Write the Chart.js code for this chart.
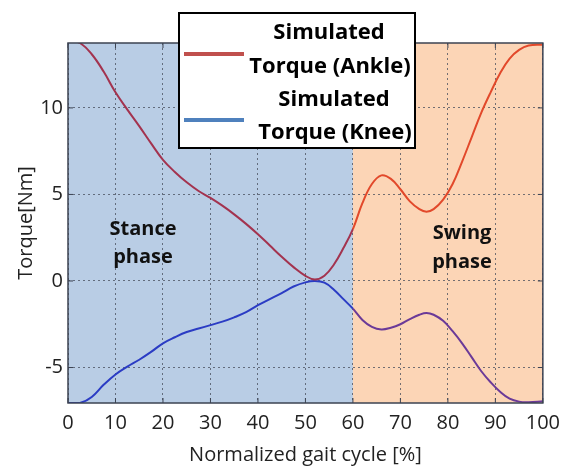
<!DOCTYPE html>
<html lang="en">
<head>
  <meta charset="UTF-8" />
  <script src="https://cdn.jsdelivr.net/npm/chart.js"></script>
  <title>Simulated Torque</title>
  <style>
    body { margin: 0; background: #fff; }
    #wrap { width: 568px; height: 469px; }
  </style>
</head>
<body>
  <div id="wrap"><canvas id="chart" width="568" height="469"></canvas></div>

  <script>
    // gait cycle [%]
    const gaitCycle = [0, 2.5, 5, 7.5, 10, 12.5, 15, 17.5, 20, 22.5, 25, 27.5, 30, 32.5, 35, 37.5, 40, 42.5, 45, 47.5,
      50, 52, 54, 56, 58, 60, 62, 64, 66, 68, 70, 72, 74, 75.5, 77, 79, 81, 83, 85, 87, 89, 91, 93, 95, 97, 100];
    const ankleTorque = [13.9, 13.75, 13.1, 12.1, 10.9, 9.9, 8.95, 7.95, 7.0, 6.3, 5.7, 5.2, 4.8, 4.35, 3.85, 3.3, 2.7, 2.05, 1.4, 0.8,
      0.3, 0.08, 0.3, 0.95, 1.9, 3.0, 4.5, 5.6, 6.1, 5.9, 5.3, 4.6, 4.15, 4.0, 4.15, 4.7, 5.6, 6.9, 8.3, 9.7, 10.9, 12.0, 12.85, 13.35, 13.6, 13.65];
    const kneeTorque = [-7.05, -7.05, -6.7, -6.0, -5.4, -4.95, -4.55, -4.1, -3.6, -3.25, -2.95, -2.75, -2.55, -2.35, -2.1, -1.8, -1.4, -1.05, -0.7, -0.32,
      -0.08, 0.0, -0.1, -0.5, -1.05, -1.6, -2.25, -2.65, -2.8, -2.7, -2.5, -2.2, -1.95, -1.85, -1.95, -2.3, -2.9, -3.6, -4.4, -5.2, -5.85, -6.4, -6.8, -6.97, -7.0, -6.95];
    const xTicks = [0, 10, 20, 30, 40, 50, 60, 70, 80, 90, 100];
    const yTicks = [-5, 0, 5, 10];
    const swingStart = 60;
    const legendLabels = [['Simulated', 'Torque (Ankle)'], ['Simulated', 'Torque (Knee)']];
    const phaseLabels = [['Stance', 'phase'], ['Swing', 'phase']];

    const toPoints = ys => gaitCycle.map((x, i) => ({ x: x, y: ys[i] }));
    const inSwing = ctx => ctx.p0.parsed.x >= swingStart;

    const phaseBackground = {
      id: 'phaseBackground',
      beforeDraw(chart) {
        const { ctx, chartArea: a, scales: { x } } = chart;
        const split = x.getPixelForValue(swingStart);
        ctx.save();
        ctx.fillStyle = '#b9cde5';
        ctx.fillRect(a.left, a.top, split - a.left, a.bottom - a.top);
        ctx.fillStyle = '#fcd5b6';
        ctx.fillRect(split, a.top, a.right - split, a.bottom - a.top);
        ctx.restore();
      }
    };

    const frameAndText = {
      id: 'frameAndText',
      afterDraw(chart) {
        const { ctx, chartArea: a, scales: { x, y } } = chart;
        ctx.save();
        // axes box with inner ticks
        ctx.strokeStyle = '#3c4352';
        ctx.lineWidth = 1.5;
        ctx.strokeRect(a.left, a.top, a.right - a.left, a.bottom - a.top);
        ctx.lineWidth = 1;
        ctx.beginPath();
        xTicks.forEach(v => {
          const px = x.getPixelForValue(v);
          ctx.moveTo(px, a.bottom); ctx.lineTo(px, a.bottom - 5);
          ctx.moveTo(px, a.top); ctx.lineTo(px, a.top + 5);
        });
        yTicks.forEach(v => {
          const py = y.getPixelForValue(v);
          ctx.moveTo(a.left, py); ctx.lineTo(a.left + 5, py);
          ctx.moveTo(a.right, py); ctx.lineTo(a.right - 5, py);
        });
        ctx.stroke();

        // phase labels
        ctx.fillStyle = '#111';
        ctx.font = 'bold 20px "Open Sans"';
        ctx.textAlign = 'center';
        ctx.textBaseline = 'middle';
        ctx.fillText(phaseLabels[0][0], 143, 229);
        ctx.fillText(phaseLabels[0][1], 143, 257);
        ctx.fillText(phaseLabels[1][0], 462, 233);
        ctx.fillText(phaseLabels[1][1], 462, 262);

        // legend box
        ctx.fillStyle = '#fff';
        ctx.fillRect(179, 13, 236, 135);
        ctx.strokeStyle = '#000';
        ctx.lineWidth = 2;
        ctx.strokeRect(179, 13, 236, 135);
        ctx.lineWidth = 4;
        ctx.strokeStyle = '#c0504d';
        ctx.beginPath(); ctx.moveTo(184, 54); ctx.lineTo(244, 54); ctx.stroke();
        ctx.strokeStyle = '#4f81bd';
        ctx.beginPath(); ctx.moveTo(184, 120); ctx.lineTo(244, 120); ctx.stroke();
        ctx.fillStyle = '#000';
        ctx.font = 'bold 22px "Open Sans"';
        ctx.fillText(legendLabels[0][0], 329, 33);
        ctx.fillText(legendLabels[0][1], 330, 67);
        ctx.fillText(legendLabels[1][0], 334, 100);
        ctx.fillText(legendLabels[1][1], 335, 133);
        ctx.restore();
      }
    };

    new Chart(document.getElementById('chart'), {
      type: 'line',
      data: {
        datasets: [
          {
            label: 'Simulated Torque (Ankle)',
            data: toPoints(ankleTorque),
            borderWidth: 2,
            borderColor: '#a3334f',
            segment: { borderColor: ctx => inSwing(ctx) ? '#e2492b' : '#a3334f' },
            pointRadius: 0,
            tension: 0.4
          },
          {
            label: 'Simulated Torque (Knee)',
            data: toPoints(kneeTorque),
            borderWidth: 2,
            borderColor: '#2b3cc4',
            segment: { borderColor: ctx => inSwing(ctx) ? '#6b3a98' : '#2b3cc4' },
            pointRadius: 0,
            tension: 0.4
          }
        ]
      },
      options: {
        responsive: false,
        animation: false,
        layout: { padding: { top: 43, right: 21, left: 0, bottom: 0 } },
        plugins: { legend: { display: false }, tooltip: { enabled: false } },
        scales: {
          x: {
            type: 'linear',
            min: 0,
            max: 100,
            afterFit: s => { s.height = 66; },
            afterBuildTicks: s => { s.ticks = xTicks.map(v => ({ value: v })); },
            grid: { color: 'rgba(70,75,90,0.75)', drawTicks: false },
            border: { display: false, dash: [2, 3] },
            ticks: { padding: 8, color: '#222', font: { family: 'Open Sans', size: 20 } },
            title: { display: true, text: 'Normalized gait cycle [%]', color: '#222', padding: { top: 0, bottom: 2 }, font: { family: 'Open Sans', size: 20 } }
          },
          y: {
            min: -7.05,
            max: 13.75,
            afterFit: s => { s.width = 68; },
            afterBuildTicks: s => { s.ticks = yTicks.map(v => ({ value: v })); },
            grid: { color: 'rgba(70,75,90,0.75)', drawTicks: false },
            border: { display: false, dash: [2, 3] },
            ticks: { padding: 5, color: '#222', font: { family: 'Open Sans', size: 20 } },
            title: { display: true, text: 'Torque[Nm]', color: '#222', padding: { top: 14, bottom: 0 }, font: { family: 'Open Sans', size: 20 } }
          }
        }
      },
      plugins: [phaseBackground, frameAndText]
    });
  </script>
</body>
</html>
